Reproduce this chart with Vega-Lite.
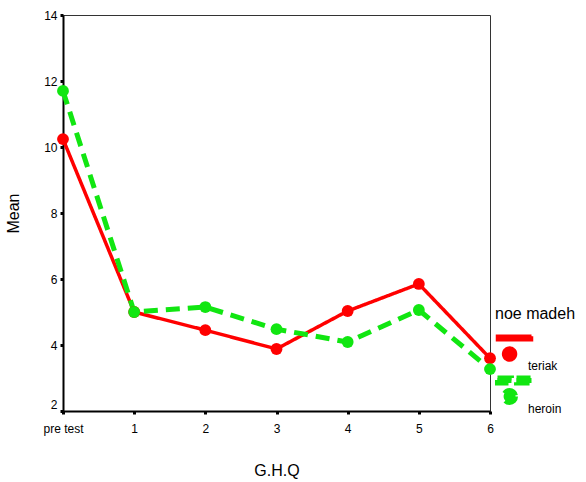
{
  "$schema": "https://vega.github.io/schema/vega-lite/v6.json",
  "autosize": "none",
  "padding": {"left": 63, "top": 15, "right": 96, "bottom": 71},
  "width": 427,
  "height": 396,
  "config": {
    "font": "Liberation Sans",
    "view": {"stroke": "#333", "strokeWidth": 1},
    "axis": {"grid": false, "domainColor": "#000", "domainWidth": 2, "tickColor": "#000", "tickWidth": 3, "tickSize": 3, "labelColor": "#000", "labelFontSize": 12, "titleFontSize": 16, "titleFontWeight": "normal", "titleColor": "#000"}
  },
  "data": {
    "values": [
      {"test": "pre test", "group": "teriak", "mean": 10.24},
      {"test": "1", "group": "teriak", "mean": 5.0},
      {"test": "2", "group": "teriak", "mean": 4.45},
      {"test": "3", "group": "teriak", "mean": 3.88},
      {"test": "4", "group": "teriak", "mean": 5.03},
      {"test": "5", "group": "teriak", "mean": 5.85},
      {"test": "6", "group": "teriak", "mean": 3.6},
      {"test": "pre test", "group": "heroin", "mean": 11.7},
      {"test": "1", "group": "heroin", "mean": 5.0},
      {"test": "2", "group": "heroin", "mean": 5.15},
      {"test": "3", "group": "heroin", "mean": 4.48},
      {"test": "4", "group": "heroin", "mean": 4.09},
      {"test": "5", "group": "heroin", "mean": 5.06},
      {"test": "6", "group": "heroin", "mean": 3.27}
    ]
  },
  "encoding": {
    "x": {"field": "test", "type": "ordinal", "sort": ["pre test", "1", "2", "3", "4", "5", "6"], "scale": {"type": "point", "padding": 0}, "title": "G.H.Q", "axis": {"labelAngle": 0, "labelPadding": 9, "titlePadding": 28}},
    "y": {"field": "mean", "type": "quantitative", "scale": {"domain": [2, 14], "nice": false, "zero": false}, "title": "Mean", "axis": {"values": [2, 4, 6, 8, 10, 12, 14], "labelPadding": 3, "titlePadding": 22, "labelBaseline": {"condition": {"test": "datum.value == 2", "value": "bottom"}, "value": "middle"}}},
    "color": {"field": "group", "type": "nominal", "sort": ["teriak", "heroin"], "scale": {"domain": ["teriak", "heroin"], "range": ["#ff0000", "#11e611"]}, "title": "noe madeh",
      "legend": {"orient": "none", "legendX": 432, "legendY": 291, "titleFontSize": 16, "titleFontWeight": "normal", "titleColor": "#000", "titlePadding": 11, "labelFontSize": 12, "labelColor": "#000", "labelOffset": -6, "rowPadding": -4,
        "symbolType": "circle",
        "symbolSize": 1156, "symbolStrokeWidth": 0, "symbolOpacity": 1,
        "encode": {"symbols": {"update": {
          "shape": {"signal": "datum.value == 'heroin' ? 'M-1,-0.97H-0.18V-0.67H-1Z M0.12,-0.97H1V-0.67H0.12Z M0.06,0.12A0.35,0.35,0,1,1,-0.64,0.12A0.35,0.35,0,1,1,0.06,0.12Z' : 'M-1,-0.92H1V-0.72H-1Z M0.06,0.12A0.35,0.35,0,1,1,-0.64,0.12A0.35,0.35,0,1,1,0.06,0.12Z'"},
          "fill": {"signal": "scale('color', datum.value)"}, "fillOpacity": {"value": 1}, "stroke": {"value": "transparent"}, "strokeWidth": {"value": 0}, "strokeDash": {"value": [1, 0]}}},
          "labels": {"update": {"dy": {"value": 14}}}}}}
  },
  "layer": [
    {
      "mark": {"type": "line"},
      "encoding": {
        "strokeDash": {"field": "group", "type": "nominal", "sort": ["teriak", "heroin"], "scale": {"domain": ["teriak", "heroin"], "range": [[1, 0], [14, 8]]}, "title": "noe madeh"},
        "strokeWidth": {"field": "group", "type": "nominal", "scale": {"domain": ["teriak", "heroin"], "range": [3.5, 5]}, "legend": null}
      }
    },
    {
      "mark": {"type": "point", "filled": true, "opacity": 1, "size": 140},
      "encoding": {}
    }
  ]
}
